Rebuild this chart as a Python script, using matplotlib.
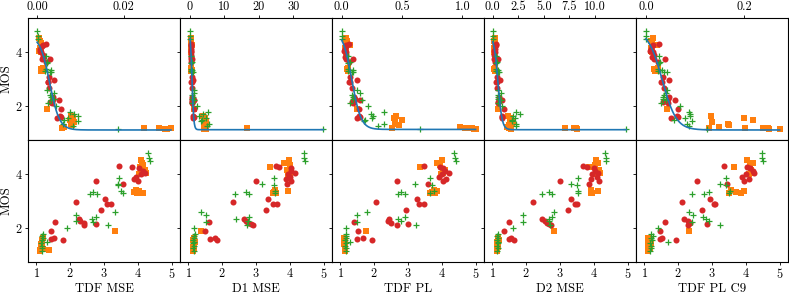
import numpy as np
import matplotlib
matplotlib.use("Agg")
import matplotlib.pyplot as plt

plt.rcParams["font.family"] = ["cmr10", "DejaVu Serif"]
plt.rcParams["mathtext.fontset"] = "cm"
plt.rcParams["axes.formatter.use_mathtext"] = True

METRICS = ["TDF MSE", "D1 MSE", "TDF PL", "D2 MSE", "TDF PL C9"]
TOP_TICKS = [[0.0, 0.02], [0, 10, 20, 30], [0.0, 0.5, 1.0],
             [0.0, 2.5, 5.0, 7.5, 10.0], [0.0, 0.2]]
TOP_TICKLABELS = [["0.00", "0.02"], ["0", "10", "20", "30"], ["0.0", "0.5", "1.0"],
                  ["0.0", "2.5", "5.0", "7.5", "10.0"], ["0.0", "0.2"]]
TOP_XLIM = [(-0.0021, 0.033), (-2.9, 41.2), (-0.08, 1.18), (-0.85, 14.0), (-0.02, 0.289)]
# logistic fit (upper, lower, centre, scale) per metric
FIT_PARAMS = [(4.6, 1.12, 0.0029, 0.00112), (4.8, 1.13, 0.59, 0.248),
              (4.8, 1.14, 0.084, 0.038), (4.6, 1.13, 0.52, 0.197),
              (4.8, 1.12, 0.0334, 0.0142)]

# MOS of each stimulus, shared by all panels
MOS_RED = [4.30, 4.25, 4.20, 4.12, 4.05, 3.98, 3.90, 3.82, 3.75, 3.73, 3.64, 3.07, 2.97,
           2.90, 2.88, 2.67, 2.32, 2.25, 2.20, 2.16, 2.10, 2.24, 1.88, 1.65, 1.60, 1.57]
MOS_ORANGE = [4.52, 4.42, 4.32, 4.25, 4.15, 4.05, 4.00, 3.42, 3.38, 3.33, 3.30, 3.28, 1.88,
              1.21, 1.65, 1.55, 1.48, 1.42, 1.35, 1.30, 1.22, 1.20, 1.20, 1.18, 1.16, 1.14]
MOS_GREEN = [4.76, 4.60, 4.46, 3.85, 3.64, 3.58, 3.37, 3.31, 3.35, 3.27, 3.25, 2.58, 2.50,
             2.40, 2.34, 2.28, 2.12, 2.01, 1.78, 1.72, 1.65, 1.55, 1.45, 1.35, 1.25, 1.15,
             1.48, 2.24]

# metric values (top row), one list per metric
METRIC_RED = [
    [0.0021, 0.00146, 0.00103, 0.00077, 0.00062, 0.00091, 0.00125, 0.00139, 0.00114, 0.00304,
     0.00196, 0.0027, 0.0039, 0.0026, 0.00248, 0.00285, 0.00372, 0.00368, 0.00347, 0.00303,
     0.00347, 0.005, 0.0055, 0.0052, 0.0055, 0.0045],
    [0.41, 0.39, 0.26, 0.25, 0.22, 0.29, 0.27, 0.31, 0.25, 0.58, 0.30, 0.49, 0.78, 0.45, 0.41,
     0.50, 0.68, 0.66, 0.64, 0.62, 0.61, 1.06, 1.14, 0.97, 1.05, 0.94],
    [0.062, 0.039, 0.032, 0.029, 0.022, 0.035, 0.040, 0.028, 0.032, 0.095, 0.058, 0.071, 0.128,
     0.069, 0.062, 0.086, 0.106, 0.108, 0.103, 0.083, 0.095, 0.150, 0.145, 0.140, 0.148, 0.126],
    [0.32, 0.28, 0.21, 0.19, 0.16, 0.23, 0.17, 0.24, 0.15, 0.49, 0.26, 0.41, 0.68, 0.38, 0.37,
     0.43, 0.60, 0.59, 0.58, 0.56, 0.55, 0.93, 1.06, 0.91, 0.93, 0.87],
    [0.0274, 0.0140, 0.0122, 0.0102, 0.0087, 0.0152, 0.0174, 0.0128, 0.0163, 0.0389, 0.0257,
     0.0339, 0.0476, 0.0321, 0.0314, 0.0372, 0.0466, 0.0441, 0.0432, 0.0350, 0.0441, 0.0598,
     0.0660, 0.0630, 0.0660, 0.0515],
]
METRIC_ORANGE = [
    [0.0005, 0.0006, 0.0009, 0.0010, 0.0006, 0.0004, 0.0010, 0.0013, 0.0008, 0.0014, 0.0012,
     0.0008, 0.0023, 0.0058, 0.0079, 0.0082, 0.0075, 0.0085, 0.0078, 0.0080, 0.0063, 0.0248,
     0.0282, 0.0309, 0.0295, 0.0300],
    [0.28, 0.33, 0.27, 0.47, 0.30, 0.26, 0.29, 0.43, 0.29, 0.44, 0.42, 0.45, 1.24, 4.2, 3.9,
     4.3, 4.1, 4.5, 4.0, 4.4, 4.2, 16.4, 4.6, 4.3, 4.0, 4.5],
    [0.036, 0.042, 0.038, 0.067, 0.029, 0.032, 0.037, 0.053, 0.043, 0.055, 0.050, 0.056, 0.125,
     0.415, 0.45, 0.435, 0.50, 0.44, 0.445, 0.477, 0.98, 1.02, 1.05, 1.08, 1.10, 1.11],
    [0.18, 0.16, 0.19, 0.26, 0.15, 0.14, 0.17, 0.24, 0.16, 0.24, 0.23, 0.24, 0.53, 1.6, 1.5,
     1.8, 1.7, 2.0, 1.9, 1.6, 1.4, 7.05, 7.9, 8.1, 8.25, 1.75],
    [0.0140, 0.0097, 0.0122, 0.0224, 0.0115, 0.0102, 0.0128, 0.0238, 0.0165, 0.0215, 0.0181,
     0.0246, 0.0437, 0.129, 0.133, 0.200, 0.217, 0.135, 0.168, 0.170, 0.148, 0.202, 0.239,
     0.249, 0.272, 0.250],
]
METRIC_GREEN = [
    [0.0, 0.0001, 0.0002, 0.0021, 0.0022, 0.0022, 0.0020, 0.0019, 0.0031, 0.0030, 0.0032,
     0.0023, 0.0039, 0.0030, 0.0032, 0.0039, 0.0026, 0.0044, 0.0075, 0.0086, 0.0094, 0.0071,
     0.0094, 0.0060, 0.0082, 0.0186, 0.0062, 0.0031],
    [0.0, 0.02, 0.04, 0.43, 0.53, 0.43, 0.43, 0.42, 0.66, 0.64, 0.76, 1.25, 1.12, 0.64, 0.75,
     0.65, 0.65, 1.9, 5.1, 3.7, 2.7, 4.6, 3.2, 5.4, 5.0, 38.7, 3.5, 1.12],
    [0.0, 0.002, 0.004, 0.054, 0.073, 0.053, 0.050, 0.054, 0.091, 0.087, 0.095, 0.13, 0.15,
     0.087, 0.095, 0.091, 0.072, 0.215, 0.347, 0.243, 0.256, 0.248, 0.182, 0.353, 0.30, 0.65,
     0.19, 0.17],
    [0.0, 0.01, 0.02, 0.37, 0.42, 0.37, 0.37, 0.37, 0.56, 0.55, 0.60, 0.53, 0.77, 0.55, 0.56,
     0.56, 0.56, 0.88, 2.27, 2.66, 2.0, 2.18, 1.85, 2.3, 2.27, 13.05, 1.9, 0.77],
    [0.0, 0.0, 0.0005, 0.0264, 0.029, 0.0264, 0.0242, 0.0246, 0.0336, 0.036, 0.0425, 0.0437,
     0.0418, 0.0365, 0.0352, 0.034, 0.030, 0.069, 0.087, 0.09, 0.089, 0.08, 0.094, 0.083,
     0.087, 0.124, 0.058, 0.042],
]

# predicted MOS (bottom row)
PRED_RED = [
    [3.45, 3.84, 4.05, 4.15, 4.20, 4.10, 3.95, 3.88, 4.00, 2.75, 3.55, 3.02, 2.16, 3.08, 3.20,
     2.90, 2.25, 2.28, 2.42, 2.76, 2.42, 1.56, 1.42, 1.52, 1.42, 1.80],
    [3.60, 3.67, 4.03, 4.05, 4.15, 3.95, 4.00, 3.90, 4.05, 3.00, 3.92, 3.37, 2.33, 3.50, 3.62,
     3.30, 2.63, 2.70, 2.77, 2.85, 2.90, 1.61, 1.48, 1.78, 1.63, 1.85],
    [3.47, 3.95, 4.05, 4.10, 4.20, 4.02, 3.92, 4.12, 4.05, 2.68, 3.58, 3.27, 2.04, 3.33, 3.47,
     2.93, 2.45, 2.40, 2.50, 3.00, 2.68, 1.41, 1.52, 1.66, 1.50, 1.92],
    [3.67, 3.80, 4.00, 4.05, 4.12, 3.95, 4.10, 3.92, 4.15, 3.00, 3.87, 3.34, 2.20, 3.45, 3.50,
     3.25, 2.48, 2.55, 2.62, 2.68, 2.73, 1.48, 1.35, 1.55, 1.50, 1.63],
    [3.36, 4.05, 4.12, 4.20, 4.25, 4.00, 3.90, 4.10, 3.95, 2.56, 3.45, 2.93, 2.11, 3.05, 3.10,
     2.71, 2.17, 2.30, 2.35, 2.85, 2.30, 1.62, 1.45, 1.52, 1.45, 1.94],
]
PRED_ORANGE = [
    [4.10, 4.12, 4.15, 4.08, 4.20, 4.25, 4.05, 3.95, 4.05, 3.90, 3.98, 4.15, 3.32, 1.37, 1.18,
     1.16, 1.17, 1.14, 1.16, 1.15, 1.18, 1.12, 1.12, 1.12, 1.12, 1.12],
    [3.97, 3.84, 4.00, 3.40, 3.92, 4.02, 3.95, 3.55, 3.95, 3.52, 3.58, 3.50, 1.38, 1.14, 1.16,
     1.14, 1.18, 1.15, 1.17, 1.13, 1.15, 1.13, 1.13, 1.13, 1.13, 1.13],
    [4.00, 3.86, 3.96, 3.37, 4.10, 4.05, 3.98, 3.76, 3.85, 3.70, 3.80, 3.65, 1.77, 1.14, 1.12,
     1.13, 1.14, 1.12, 1.13, 1.14, 1.13, 1.13, 1.13, 1.13, 1.13, 1.13],
    [4.08, 4.12, 4.05, 3.87, 4.15, 4.17, 4.10, 3.93, 4.12, 3.92, 3.95, 3.93, 2.83, 1.13, 1.15,
     1.18, 1.14, 1.16, 1.13, 1.15, 1.13, 1.13, 1.13, 1.13, 1.13, 1.13],
    [4.05, 4.22, 4.12, 3.64, 4.15, 4.20, 4.10, 3.55, 3.95, 3.70, 3.87, 3.50, 2.32, 1.10, 1.12,
     1.15, 1.10, 1.18, 1.14, 1.12, 1.16, 1.12, 1.12, 1.12, 1.12, 1.12],
]
PRED_GREEN = [
    [4.30, 4.33, 4.36, 3.45, 3.42, 3.40, 3.50, 3.56, 2.68, 2.78, 2.60, 3.32, 2.16, 2.75, 2.65,
     2.16, 3.12, 1.89, 1.20, 1.16, 1.18, 1.15, 1.14, 1.17, 1.15, 1.16, 1.30, 2.68],
    [4.42, 4.42, 4.44, 3.53, 3.18, 3.53, 3.55, 3.57, 2.70, 2.78, 2.38, 1.38, 1.53, 2.78, 2.41,
     2.75, 2.73, 1.15, 1.18, 1.15, 1.17, 1.14, 1.13, 1.15, 1.14, 1.16, 1.15, 1.53],
    [4.36, 4.38, 4.42, 3.66, 3.20, 3.70, 3.76, 3.66, 2.80, 2.90, 2.70, 1.79, 1.48, 2.90, 2.70,
     2.80, 3.23, 1.15, 1.17, 1.15, 1.16, 1.14, 1.15, 1.14, 1.15, 1.15, 1.28, 1.48],
    [4.33, 4.35, 4.37, 3.54, 3.32, 3.50, 3.52, 3.52, 2.68, 2.75, 2.48, 2.83, 1.90, 2.75, 2.68,
     2.68, 2.70, 1.60, 1.15, 1.13, 1.16, 1.14, 1.15, 1.13, 1.15, 1.14, 1.15, 1.90],
    [4.47, 4.48, 4.50, 3.40, 3.23, 3.40, 3.53, 3.50, 2.92, 2.76, 2.40, 2.32, 2.44, 2.73, 2.82,
     2.90, 3.25, 1.40, 1.20, 1.25, 1.18, 1.22, 1.15, 1.20, 1.18, 1.17, 1.69, 2.42],
]


def logistic(x, upper, lower, centre, scale):
    return lower + (upper - lower) / (1.0 + np.exp((x - centre) / scale))


def draw_points(ax, x_red, x_orange, x_green):
    ax.scatter(x_orange, MOS_ORANGE, marker="s", s=17, color="#ff7f0e", linewidths=0, zorder=2)
    ax.scatter(x_red, MOS_RED, marker="o", s=19, color="#d62728", linewidths=0, zorder=3)
    ax.scatter(x_green, MOS_GREEN, marker="+", s=18, color="#2ca02c", linewidths=0.9, zorder=4)


fig = plt.figure(figsize=(7.89, 2.96), dpi=100)
gs = fig.add_gridspec(2, 5, left=28 / 789, right=788 / 789, top=1 - 18 / 296,
                      bottom=1 - 262 / 296, wspace=0, hspace=0)

for i, name in enumerate(METRICS):
    ax_top = fig.add_subplot(gs[0, i])
    ax_bot = fig.add_subplot(gs[1, i])

    draw_points(ax_top, METRIC_RED[i], METRIC_ORANGE[i], METRIC_GREEN[i])
    all_x = np.concatenate([METRIC_RED[i], METRIC_ORANGE[i], METRIC_GREEN[i]])
    xx = np.linspace(all_x.min(), all_x.max(), 400)
    ax_top.plot(xx, logistic(xx, *FIT_PARAMS[i]), color="#1f77b4", lw=1.2, zorder=5)

    ax_top.xaxis.tick_top()
    ax_top.set_xticks(TOP_TICKS[i])
    ax_top.set_xticklabels(TOP_TICKLABELS[i])
    ax_top.set_xlim(*TOP_XLIM[i])

    draw_points(ax_bot, PRED_RED[i], PRED_ORANGE[i], PRED_GREEN[i])
    ax_bot.set_xticks([1, 2, 3, 4, 5])
    ax_bot.set_xlim(0.75, 5.25)
    ax_bot.set_xlabel(name, fontsize=9.2, labelpad=1)

    for ax in (ax_top, ax_bot):
        ax.set_ylim(0.75, 5.25)
        ax.set_yticks([2, 4])
        ax.tick_params(direction="out", length=2.2, width=0.6, labelsize=8.8, pad=1.5)
        if i == 0:
            ax.set_ylabel("MOS", fontsize=9.2, labelpad=1.5)
        else:
            ax.tick_params(labelleft=False)

fig.savefig("out.png", dpi=100)
